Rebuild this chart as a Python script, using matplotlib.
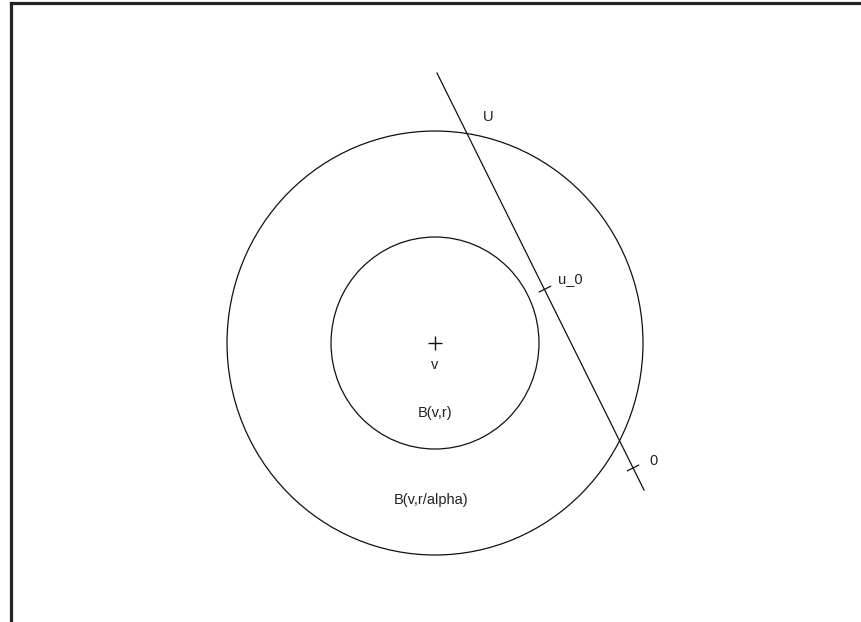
import numpy as np
import matplotlib
matplotlib.use('Agg')
import matplotlib.pyplot as plt
from matplotlib.patches import Ellipse

plt.rcParams['font.family'] = ['Liberation Sans', 'DejaVu Sans']

# Datos de la figura (unidades: radio r = 1)
centro = (0.0, 0.0)
r = 1.0
alpha = 0.5
linea_x = [0.019, 2.01]
linea_y = [2.547, -1.387]
marcas_x = [1.058, 1.904]
marcas_y = [0.509, -1.179]
etiquetas = ['U', 'u_0', '0', 'v', 'B(v,r)', 'B(v,r/alpha)']
etiquetas_x = [0.51, 1.30, 2.10, 0.0, 0.0, -0.04]
etiquetas_y = [2.13, 0.60, -1.11, -0.21, -0.66, -1.48]

fig = plt.figure(figsize=(8.62, 6.22), dpi=100)
ax = fig.add_axes([0, 0, 1, 1])
ax.set_xlim(-4.183, 4.106)
ax.set_ylim(-2.632, 3.236)
ax.axis('off')

# Marco (solo arriba e izquierda visibles)
fig.add_artist(plt.Line2D([0.0128, 0.0128], [0, 0.9952], transform=fig.transFigure,
                          color='#222222', lw=2.3, solid_capstyle='projecting'))
fig.add_artist(plt.Line2D([0.0128, 1.0], [0.9952, 0.9952], transform=fig.transFigure,
                          color='#222222', lw=2.3, solid_capstyle='projecting'))

# Circulos B(v,r) y B(v,r/alpha)
for rad in [r, r / alpha]:
    ax.add_patch(Ellipse(centro, 2 * rad, 2 * rad, fill=False, edgecolor='#111111', lw=0.9))

# Centro v
ax.plot(centro[0], centro[1], marker='+', color='#111111', markersize=10, mew=1.0)

# Linea U
ax.plot(linea_x, linea_y, color='#111111', lw=0.9)

# Marcas sobre la linea, perpendiculares en pantalla
p0 = ax.transData.transform((linea_x[0], linea_y[0]))
p1 = ax.transData.transform((linea_x[1], linea_y[1]))
d = (p1 - p0) / np.hypot(*(p1 - p0))
perp = np.array([d[1], -d[0]]) * 6.3
inv = ax.transData.inverted()
for mx, my in zip(marcas_x, marcas_y):
    c = ax.transData.transform((mx, my))
    a = inv.transform(c - perp)
    b = inv.transform(c + perp)
    ax.plot([a[0], b[0]], [a[1], b[1]], color='#111111', lw=0.9)

for txt, x, y in zip(etiquetas, etiquetas_x, etiquetas_y):
    ax.text(x, y, txt, ha='center', va='center', fontsize=10.5, color='#222222')

fig.savefig('out.png', dpi=100)
